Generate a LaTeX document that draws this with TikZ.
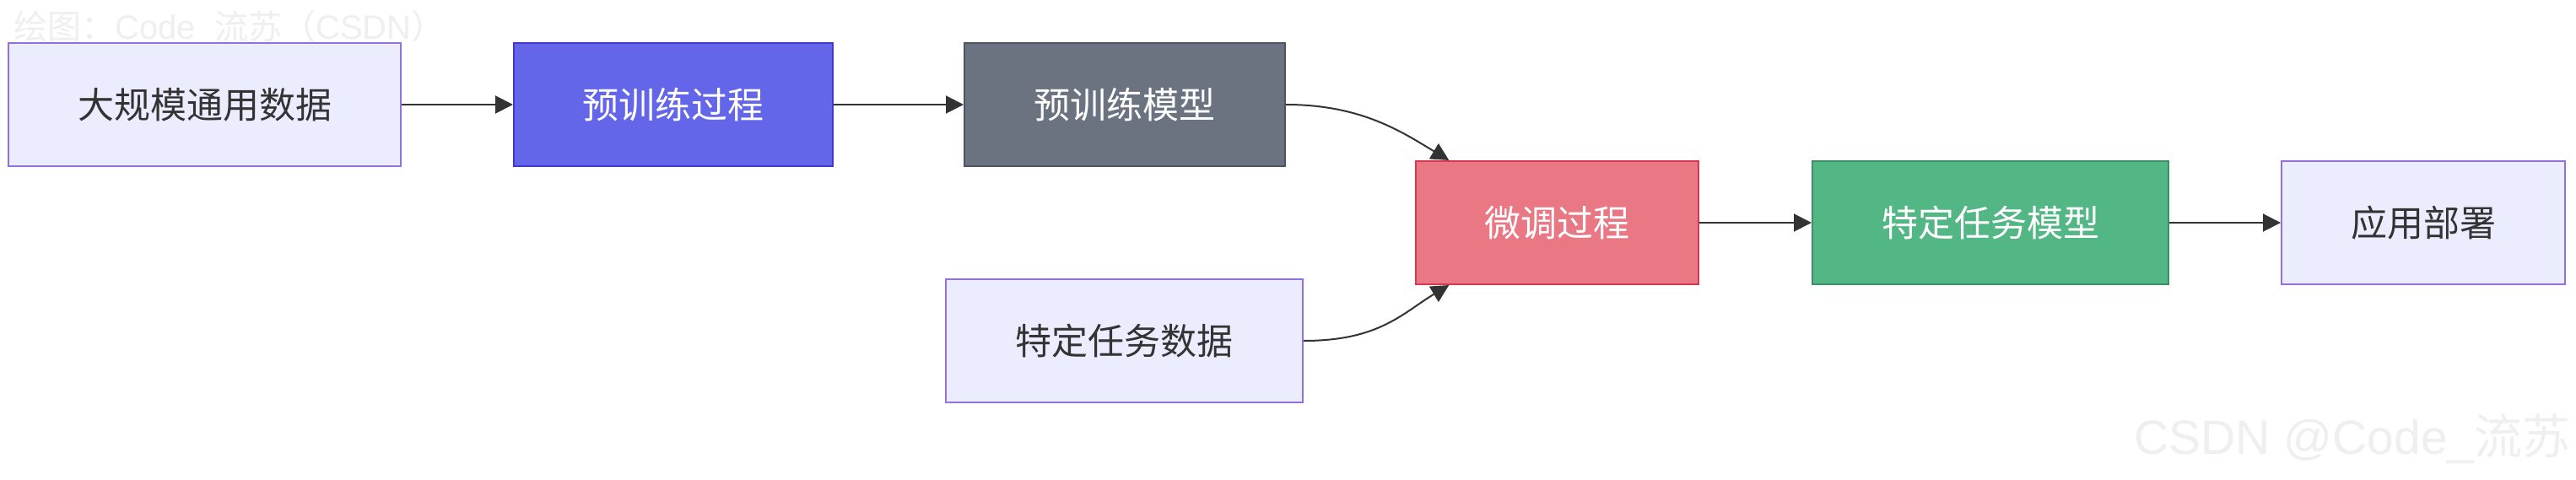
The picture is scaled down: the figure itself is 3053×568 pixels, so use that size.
\documentclass[tikz,border=0pt]{standalone}
\usepackage{fontspec}
\setmainfont{Liberation Sans}
\newfontfamily\cjk{Noto Sans CJK SC}
\usetikzlibrary{arrows.meta}
\definecolor{txtdark}{HTML}{333333}
\definecolor{lavfill}{HTML}{ECECFF}
\definecolor{lavline}{HTML}{9370DB}
\definecolor{indfill}{HTML}{6366E9}
\definecolor{indline}{HTML}{4338CA}
\definecolor{grayfill}{HTML}{6B7280}
\definecolor{grayline}{HTML}{4B5563}
\definecolor{redfill}{HTML}{E97884}
\definecolor{redline}{HTML}{D9364F}
\definecolor{grnfill}{HTML}{53B685}
\definecolor{grnline}{HTML}{3E8F66}
\definecolor{wmark}{HTML}{EFEFEF}

\begin{document}
\begin{tikzpicture}[x=0.5pt,y=0.5pt,>={Triangle[length=10.5pt,width=10.5pt]},
  box/.style={draw,line width=1pt,minimum height=73pt,inner sep=0pt,
    font=\cjk\fontsize{21.5}{26}\selectfont},
  databox/.style={box,fill=lavfill,draw=lavline,text=txtdark},
  procbox/.style={box,fill=indfill,draw=indline,text=white},
  basebox/.style={box,fill=grayfill,draw=grayline,text=white},
  tunebox/.style={box,fill=redfill,draw=redline,text=white},
  taskbox/.style={box,fill=grnfill,draw=grnline,text=white},
  flow/.style={->,line width=1pt,draw=txtdark},
  wmtext/.style={inner sep=0pt,text=wmark}]
  % ---- canvas ----
  \fill[white] (0,0) rectangle (3053,568);
  \useasboundingbox (0,0) rectangle (3053,568);
  % ---- watermarks ----
  \node[wmtext,anchor=base west] (wmtop) at (16,521)
    {\fontsize{20}{24}\selectfont\cjk 绘图：\rmfamily Code\_\cjk 流苏（\rmfamily CSDN\cjk ）};
  \node[wmtext,anchor=base east] (wmbot) at (3047,30)
    {\fontsize{28.5}{34}\selectfont CSDN @Code\_{\cjk 流苏}};
  % ---- pre-training row ----
  \node[databox,minimum width=232.5pt] (gendata)  at (242.5,444) {大规模通用数据};
  \node[procbox,minimum width=189pt]   (ptproc)   at (798,444)   {预训练过程};
  \node[basebox,minimum width=190pt]   (ptmodel)  at (1333,444)  {预训练模型};
  % ---- fine-tuning row ----
  \node[tunebox,minimum width=167.5pt] (ftproc)   at (1845.5,304) {微调过程};
  \node[taskbox,minimum width=211pt]   (tskmodel) at (2359,304)   {特定任务模型};
  \node[databox,minimum width=168pt]   (deploy)   at (2872,304)   {应用部署};
  \node[databox,minimum width=211.5pt] (tskdata)  at (1332.5,164) {特定任务数据};
  % ---- connectors ----
  \draw[flow] (gendata) -- (ptproc);
  \draw[flow] (ptproc) -- (ptmodel);
  \draw[flow] (ptmodel.east) .. controls +(90,0) and +(-55,33) .. (ftproc.150);
  \draw[flow] (tskdata.east) .. controls +(90,0) and +(-55,-33) .. (ftproc.210);
  \draw[flow] (ftproc) -- (tskmodel);
  \draw[flow] (tskmodel) -- (deploy);
\end{tikzpicture}
\end{document}
